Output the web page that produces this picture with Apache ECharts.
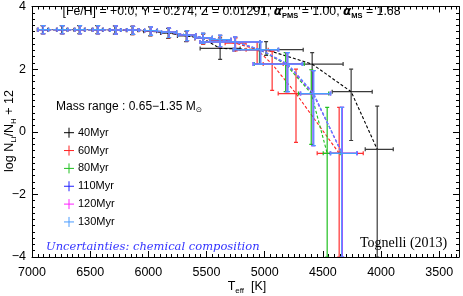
<!DOCTYPE html>
<html><head><meta charset="utf-8">
<script src="https://cdn.jsdelivr.net/npm/echarts@6/dist/echarts.min.js"></script>
<style>html,body{margin:0;padding:0;background:#fff}#c{width:463px;height:296px}</style>
</head><body><div id="c"></div>
<script>
// ---- data ----
const xTickLabels = [7000, 6500, 6000, 5500, 5000, 4500, 4000, 3500];
const yTickLabels = [-4, -2, 0, 2, 4];
const ageNames = ['40Myr', '60Myr', '80Myr', '110Myr', '120Myr', '130Myr'];
const ageColors = ['#000000', '#ff2020', '#20c020', '#2020ff', '#ff20ff', '#4a9cff'];
const barColors = ['#3a3a3a', '#ff3030', '#20c020', '#3030ff', '#ff30ff', '#4a9cff'];
// each point: [Teff, logLi, Teff_hot_end, Teff_cool_end, logLi_top, logLi_bottom]
const age40 = [
  [6910,3.26,6955,6865,3.39,3.13],[6745,3.26,6790,6700,3.39,3.13],[6595,3.26,6640,6550,3.39,3.13],
  [6440,3.26,6485,6395,3.39,3.13],[6288,3.25,6335,6240,3.38,3.12],[6140,3.24,6190,6090,3.37,3.10],
  [5985,3.21,6040,5930,3.35,3.06],[5830,3.15,5895,5765,3.30,2.98],[5675,3.06,5750,5600,3.21,2.88],
  [5529,2.98,5600,5450,3.12,2.80],[5383,2.66,5555,5211,3.00,2.31],[4988,2.62,5254,4669,2.88,2.44],
  [4592,2.16,4807,4326,2.53,1.28],[4257,1.28,4420,4076,2.00,-0.28],[4033,-0.56,4136,3895,0.82,-4.0]
];
const age60 = [
  [6903,3.26,6948,6858,3.39,3.13],[6738,3.26,6783,6693,3.39,3.13],[6587,3.26,6632,6542,3.39,3.13],
  [6432,3.26,6477,6387,3.39,3.13],[6280,3.25,6327,6233,3.38,3.12],[6131,3.24,6181,6081,3.37,3.10],
  [5977,3.22,6032,5922,3.35,3.07],[5822,3.17,5887,5757,3.31,3.00],[5667,3.09,5742,5592,3.23,2.90],
  [5529,2.99,5600,5450,3.13,2.80],[5383,2.91,5470,5290,3.06,2.70],[5250,2.83,5340,5160,3.00,2.58],
  [5065,2.62,5160,4970,2.87,2.16],[4936,2.16,5013,4841,2.57,1.32],[4731,1.22,4884,4584,2.00,-0.34],
  [4360,-0.69,4549,4153,0.78,-4.0]
];
const age80 = [
  [6903,3.26,6948,6858,3.39,3.13],[6738,3.26,6783,6693,3.39,3.13],[6587,3.26,6632,6542,3.39,3.13],
  [6432,3.26,6477,6387,3.39,3.13],[6280,3.25,6327,6233,3.38,3.12],[6131,3.25,6181,6081,3.37,3.11],
  [5977,3.23,6032,5922,3.35,3.08],[5822,3.18,5887,5757,3.31,3.01],[5667,3.09,5742,5592,3.23,2.91],
  [5529,3.00,5600,5450,3.14,2.82],[5383,2.94,5470,5290,3.08,2.72],[5254,2.87,5555,5040,3.03,2.63],
  [5045,2.62,5271,4884,2.87,2.16],[4820,2.16,5090,4660,2.53,1.28],[4600,1.22,4710,4450,1.98,-0.40],
  [4463,-0.69,4497,4351,0.78,-4.0]
];
const age110 = [
  [6903,3.26,6948,6858,3.39,3.13],[6738,3.26,6783,6693,3.39,3.13],[6587,3.26,6632,6542,3.39,3.13],
  [6432,3.26,6477,6387,3.39,3.13],[6280,3.25,6327,6233,3.38,3.12],[6131,3.25,6181,6081,3.37,3.11],
  [5977,3.23,6032,5922,3.35,3.08],[5822,3.18,5887,5757,3.31,3.01],[5667,3.09,5742,5592,3.23,2.91],
  [5529,3.00,5600,5450,3.14,2.82],[5383,2.94,5470,5290,3.08,2.72],[5254,2.87,5555,5040,3.03,2.63],
  [5039,2.62,5271,4884,2.87,2.16],[4807,2.16,5100,4678,2.53,1.28],[4584,1.22,4695,4437,1.95,-0.44],
  [4334,-0.69,4437,4205,0.78,-4.0]
];
const age120 = [
  [6903,3.26,6948,6858,3.39,3.13],[6738,3.26,6783,6693,3.39,3.13],[6587,3.26,6632,6542,3.39,3.13],
  [6432,3.26,6477,6387,3.39,3.13],[6280,3.25,6327,6233,3.38,3.12],[6131,3.25,6181,6081,3.37,3.11],
  [5977,3.23,6032,5922,3.35,3.08],[5822,3.18,5887,5757,3.31,3.01],[5667,3.09,5742,5592,3.23,2.91],
  [5529,3.00,5600,5450,3.14,2.82],[5383,2.94,5470,5290,3.08,2.72],[5254,2.87,5555,5040,3.03,2.63],
  [5036,2.62,5268,4881,2.87,2.16],[4804,2.16,5097,4675,2.53,1.28],[4581,1.22,4692,4434,1.95,-0.44],
  [4336,-0.69,4434,4208,0.78,-4.0]
];
const age130 = [
  [6903,3.26,6948,6858,3.39,3.13],[6738,3.26,6783,6693,3.39,3.13],[6587,3.26,6632,6542,3.39,3.13],
  [6432,3.26,6477,6387,3.39,3.13],[6280,3.25,6327,6233,3.38,3.12],[6131,3.25,6181,6081,3.37,3.11],
  [5977,3.23,6032,5922,3.35,3.08],[5822,3.18,5887,5757,3.31,3.01],[5667,3.09,5742,5592,3.23,2.91],
  [5529,3.00,5600,5450,3.14,2.82],[5383,2.94,5470,5290,3.08,2.72],[5254,2.87,5555,5040,3.03,2.63],
  [5033,2.62,5265,4878,2.87,2.16],[4800,2.16,5094,4672,2.53,1.28],[4578,1.22,4689,4431,1.95,-0.44],
  [4338,-0.69,4432,4210,0.78,-4.0]
];
const allAges = [age40, age60, age80, age110, age120, age130];

// ---- chart ----
const X_MIN = 3330, X_MAX = 7000;
const xMinor = [];
for (let t = 3350; t <= 7000; t += 50) if (t % 500 !== 0) xMinor.push(t);

function errRender(color) {
  return function (params, api) {
    const T = api.value(0), v = api.value(1);
    const a = api.coord([api.value(2), v]), b = api.coord([api.value(3), v]);
    const u = api.coord([T, api.value(4)]), d = api.coord([T, api.value(5)]);
    const cap = 2;
    const style = { stroke: color, lineWidth: 1.2, fill: null };
    const L = (x1, y1, x2, y2) => ({ type: 'line', shape: { x1, y1, x2, y2 }, style });
    return { type: 'group', children: [
      L(a[0], a[1], b[0], b[1]),
      L(a[0], a[1] - cap, a[0], a[1] + cap),
      L(b[0], b[1] - cap, b[0], b[1] + cap),
      L(u[0], u[1], d[0], d[1]),
      L(u[0] - cap, u[1], u[0] + cap, u[1]),
      L(d[0] - cap, d[1], d[0] + cap, d[1])
    ]};
  };
}

const series = [];
allAges.forEach((pts, i) => {
  series.push({
    type: 'custom', name: ageNames[i], xAxisIndex: 0, yAxisIndex: 0, clip: true,
    renderItem: errRender(barColors[i]), data: pts, z: 2 + i * 2,
    encode: { x: [0, 2, 3], y: [1, 4, 5] }, silent: true
  });
  series.push({
    type: 'line', name: ageNames[i] + ' line', xAxisIndex: 0, yAxisIndex: 0,
    data: pts.map(p => [p[0], p[1]]), showSymbol: false, symbol: 'none', z: 3 + i * 2,
    lineStyle: { color: ageColors[i], width: 1.1, type: [3, 2] }, silent: true, animation: false
  });
});

const FONT = 'Liberation Sans';
const axisCommon = {
  type: 'value', min: X_MIN, max: X_MAX, inverse: true, splitLine: { show: false }
};
const xAxes = [
  Object.assign({}, axisCommon, { position: 'bottom',
    axisLine: { show: true, onZero: false, lineStyle: { color: '#000', width: 1 } },
    axisTick: { show: true, inside: true, length: 6, customValues: xTickLabels, lineStyle: { color: '#000' } },
    axisLabel: { show: true, customValues: xTickLabels, margin: 9, color: '#000', fontFamily: FONT, fontSize: 12.5,
      formatter: v => String(v) } }),
  Object.assign({}, axisCommon, { position: 'bottom',
    axisLine: { show: false, onZero: false },
    axisTick: { show: true, inside: true, length: 3, customValues: xMinor, lineStyle: { color: '#000' } },
    axisLabel: { show: false } }),
  Object.assign({}, axisCommon, { position: 'top',
    axisLine: { show: true, onZero: false, lineStyle: { color: '#000', width: 1 } },
    axisTick: { show: true, inside: true, length: 6, customValues: xTickLabels, lineStyle: { color: '#000' } },
    axisLabel: { show: false } }),
  Object.assign({}, axisCommon, { position: 'top',
    axisLine: { show: false, onZero: false },
    axisTick: { show: true, inside: true, length: 3, customValues: xMinor, lineStyle: { color: '#000' } },
    axisLabel: { show: false } })
];
const yCommon = {
  type: 'value', min: -4, max: 4, interval: 2, splitLine: { show: false },
  axisLine: { show: true, onZero: false, lineStyle: { color: '#000', width: 1 } },
  axisTick: { show: true, inside: true, length: 6, lineStyle: { color: '#000' } },
  minorTick: { show: true, splitNumber: 10, length: 3, lineStyle: { color: '#000' } },
  minorSplitLine: { show: false }
};
const yAxes = [
  Object.assign({}, yCommon, { position: 'left',
    axisLabel: { show: true, margin: 6, color: '#000', fontFamily: FONT, fontSize: 12.5,
      showMaxLabel: true, showMinLabel: true,
      formatter: v => (v < 0 ? '\u2212' + Math.abs(v) : String(v)) } }),
  Object.assign({}, yCommon, { position: 'right', axisLabel: { show: false } })
];

// legend + annotation graphics
const graphics = [];
graphics.push({
  type: 'text', left: 'center', top: 4, z: 50,
  style: {
    text: '[Fe/H] = +0.0, Y = 0.274, Z = 0.01291, {a|\u03b1}{s|PMS} = 1.00, {a|\u03b1}{s|MS} = 1.68',
    font: '12.3px ' + FONT, fill: '#000', lineHeight: 16,
    rich: {
      a: { fontFamily: 'DejaVu Sans', fontStyle: 'italic', fontWeight: 'bold', fontSize: 12, lineHeight: 16 },
      s: { fontSize: 7.5, fontWeight: 'bold', verticalAlign: 'bottom', lineHeight: 16, fontFamily: FONT }
    }
  }
});
graphics.push({
  type: 'text', x: 56, y: 107, z: 50,
  style: { text: 'Mass range : 0.65\u22121.35 M{s|\u2299}', font: '12px ' + FONT, fill: '#000',
    verticalAlign: 'middle', lineHeight: 14,
    rich: { s: { fontSize: 7.5, verticalAlign: 'bottom', lineHeight: 14, fontFamily: 'DejaVu Sans' } } }
});
const legY0 = 132.7, legDY = 17.85;
ageNames.forEach((n, i) => {
  const cy = legY0 + i * legDY, cx = 69;
  graphics.push({ type: 'line', z: 50, shape: { x1: cx - 5, y1: cy, x2: cx + 5, y2: cy }, style: { stroke: ageColors[i], lineWidth: 1 } });
  graphics.push({ type: 'line', z: 50, shape: { x1: cx, y1: cy - 5, x2: cx, y2: cy + 5 }, style: { stroke: ageColors[i], lineWidth: 1 } });
  graphics.push({ type: 'text', z: 50, x: 78, y: cy, style: { text: n, font: '11px ' + FONT, fill: '#000', verticalAlign: 'middle' } });
});
graphics.push({
  type: 'text', x: 46, y: 247, z: 50,
  style: { text: 'Uncertainties: chemical composition', font: 'italic 11.5px "DejaVu Serif"', fill: '#3333ff', verticalAlign: 'middle' }
});
graphics.push({
  type: 'text', x: 360, y: 243, z: 50,
  style: { text: 'Tognelli (2013)', font: '14px "Liberation Serif"', fill: '#000', verticalAlign: 'middle' }
});
graphics.push({
  type: 'text', x: 247, y: 287, z: 50,
  style: { text: 'T{s|eff}  [K]', font: '12.5px ' + FONT, fill: '#000', align: 'center', verticalAlign: 'middle', lineHeight: 16,
    rich: { s: { fontSize: 8, verticalAlign: 'bottom', lineHeight: 16, fontFamily: FONT } } }
});
graphics.push({
  type: 'text', x: 10, y: 131, z: 50, rotation: Math.PI / 2,
  style: { text: 'log N{s|Li}/N{s|H} + 12', font: '12.5px ' + FONT, fill: '#000', align: 'center', verticalAlign: 'middle', lineHeight: 16,
    rich: { s: { fontSize: 8, verticalAlign: 'bottom', lineHeight: 16, fontFamily: FONT } } }
});

const chart = echarts.init(document.getElementById('c'), null, { renderer: 'canvas' });
chart.setOption({
  animation: false,
  backgroundColor: '#fff',
  grid: { left: 32, right: 4, top: 1, bottom: 39, containLabel: false },
  xAxis: xAxes,
  yAxis: yAxes,
  series: series,
  graphic: graphics
});
</script></body></html>
